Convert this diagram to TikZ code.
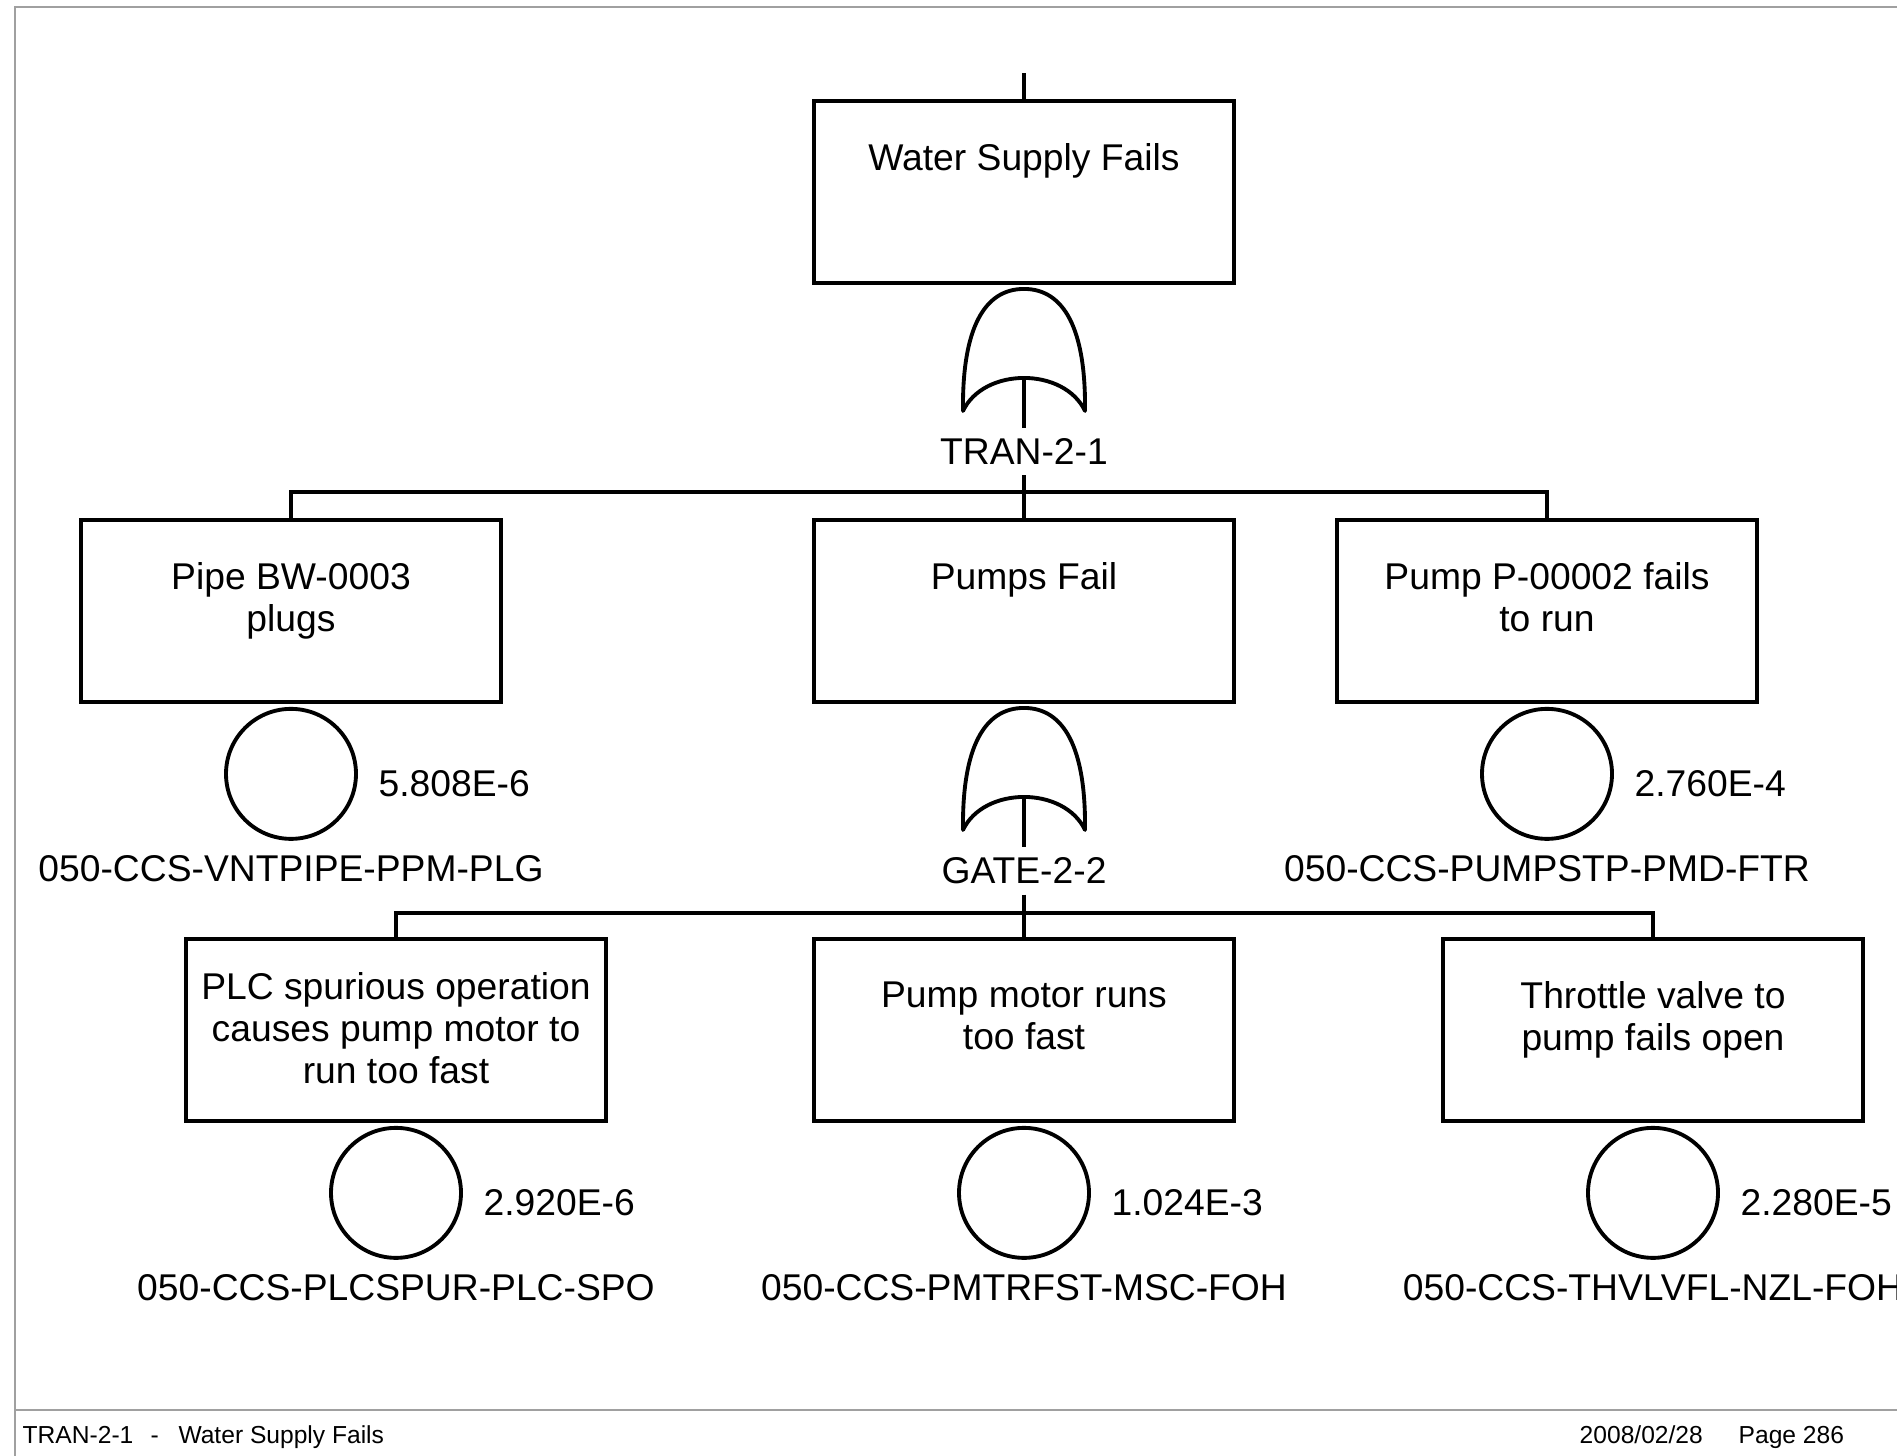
\documentclass[tikz,border=0pt]{standalone}
\usepackage{fontspec}
\setmainfont{Liberation Sans}
\usetikzlibrary{positioning}
\definecolor{framegray}{RGB}{160,160,160}

\tikzset{
  orgate/.pic={
    \draw[line width=1.1pt, line join=round] (-61,122) .. controls (-62,40) and (-40,0) .. (0,0)
      .. controls (40,0) and (62,40) .. (61,122)
      .. controls (40,78) and (-40,78) .. cycle;
    \coordinate (-stem) at (0,89);
  }
}

\begin{document}
\begin{tikzpicture}[
    x=0.1mm, y=-0.1mm,
    event/.style={rectangle, draw, line width=1.1pt, minimum width=4.2cm, minimum height=1.82cm, inner sep=0pt},
    evtext/.style={font=\fontsize{10.6}{11.95}\selectfont, align=center, inner sep=0pt},
    basic/.style={circle, draw, line width=1.1pt, minimum size=1.3cm, inner sep=0pt},
    probtext/.style={font=\fontsize{10.6}{11.95}\selectfont, inner sep=0pt},
    idtext/.style={font=\fontsize{10.6}{11.95}\selectfont, inner sep=0pt},
    gatetext/.style={font=\fontsize{10.6}{11.95}\selectfont, inner sep=1mm},
    link/.style={line width=1.1pt},
    frame/.style={framegray, line width=0.6pt},
    foot/.style={font=\fontsize{7}{8}\selectfont, inner sep=0pt, anchor=base west}
]
\useasboundingbox (0,0) rectangle (1897,1456);

% page frame
\draw[frame] (15,1456) -- (15,7) -- (1897,7);
\draw[frame] (15,1410) -- (1897,1410);

% top event
\coordinate (topin) at (1024,73);
\node[event] (top) at (1024,192) {};
\node[evtext, below=4.4mm of top.north] (toptxt) {Water Supply Fails};
\draw[link] (topin) -- (top.north);

% gate TRAN-2-1
\pic (g1) at ([yshift=-0.4mm]top.south) {orgate};
\node[gatetext, below=5mm of g1-stem] (g1lab) {TRAN-2-1};
\draw[link] (g1-stem) -- (g1lab.north);

% second level
\node[event] (pipe) at (291,611) {};
\node[event] (pumps) at (1024,611) {};
\node[event] (pump2) at (1547,611) {};
\node[evtext, below=4.4mm of pipe.north] (pipetxt) {Pipe BW-0003\\plugs};
\node[evtext, below=4.4mm of pumps.north] (pumpstxt) {Pumps Fail};
\node[evtext, below=4.4mm of pump2.north] (pump2txt) {Pump P-00002 fails\\to run};
\draw[link] (g1lab.south) -- (pumps.north);
\draw[link] (pipe.north) -- ++(0,-26) -| (pump2.north);

% basic events, second level
\node[basic, below=0.3mm of pipe] (b1) {};
\node[probtext, right=2mm of b1.east, yshift=-1mm] (p1) {5.808E-6};
\node[idtext, below=1.4mm of b1] (id1) {050-CCS-VNTPIPE-PPM-PLG};

\node[basic, below=0.3mm of pump2] (b2) {};
\node[probtext, right=2mm of b2.east, yshift=-1mm] (p2) {2.760E-4};
\node[idtext, below=1.4mm of b2] (id2) {050-CCS-PUMPSTP-PMD-FTR};

% gate GATE-2-2
\pic (g2) at ([yshift=-0.4mm]pumps.south) {orgate};
\node[gatetext, below=5mm of g2-stem] (g2lab) {GATE-2-2};
\draw[link] (g2-stem) -- (g2lab.north);

% third level
\node[event] (plc) at (396,1030) {};
\node[event] (motor) at (1024,1030) {};
\node[event] (valve) at (1653,1030) {};
\node[evtext, below=3.5mm of plc.north] (plctxt) {PLC spurious operation\\causes pump motor to\\run too fast};
\node[evtext, below=4.4mm of motor.north] (motortxt) {Pump motor runs\\too fast};
\node[evtext, below=4.4mm of valve.north] (valvetxt) {Throttle valve to\\pump fails open};
\draw[link] (g2lab.south) -- (motor.north);
\draw[link] (plc.north) -- ++(0,-24) -| (valve.north);

% basic events, third level
\node[basic, below=0.3mm of plc] (b3) {};
\node[probtext, right=2mm of b3.east, yshift=-1mm] (p3) {2.920E-6};
\node[idtext, below=1.4mm of b3] (id3) {050-CCS-PLCSPUR-PLC-SPO};

\node[basic, below=0.3mm of motor] (b4) {};
\node[probtext, right=2mm of b4.east, yshift=-1mm] (p4) {1.024E-3};
\node[idtext, below=1.4mm of b4] (id4) {050-CCS-PMTRFST-MSC-FOH};

\node[basic, below=0.3mm of valve] (b5) {};
\node[probtext, right=2mm of b5.east, yshift=-1mm] (p5) {2.280E-5};
\node[idtext, below=1.4mm of b5] (id5) {050-CCS-THVLVFL-NZL-FOH};

% footer
\node[foot] (ftitle) at (22,1443) {TRAN-2-1\hspace{0.7em}-\hspace{0.8em}Water Supply Fails};
\node[foot] (fdate) at (1579,1443) {2008/02/28};
\node[foot] (fpage) at (1738,1443) {Page 286};
\end{tikzpicture}
\end{document}
